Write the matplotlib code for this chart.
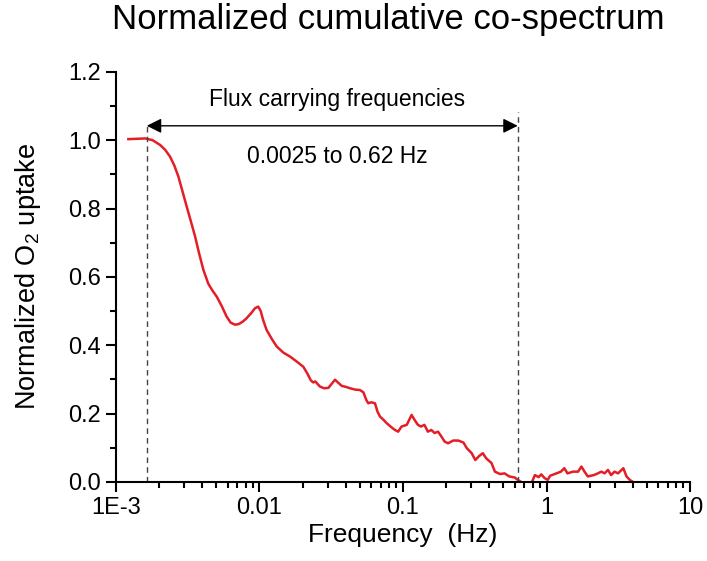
import numpy as np
import matplotlib.pyplot as plt
from matplotlib.ticker import LogLocator, FixedLocator, MultipleLocator, FixedFormatter

plt.rcParams['font.family'] = ['Liberation Sans', 'DejaVu Sans']
plt.rcParams['mathtext.fontset'] = 'custom'
plt.rcParams['mathtext.rm'] = 'Liberation Sans'
plt.rcParams['mathtext.it'] = 'Liberation Sans:italic'

# cumulative co-spectrum
freq = [0.00122, 0.00140, 0.00160, 0.00180, 0.00203, 0.00220, 0.00238, 0.00255,
        0.00272, 0.00290, 0.00311, 0.00333, 0.00356, 0.00380, 0.00407, 0.00440,
        0.00470, 0.00504, 0.00545, 0.0059, 0.0063, 0.00675, 0.0072, 0.0077,
        0.00814, 0.0088, 0.0093, 0.0098, 0.0102, 0.0106, 0.0112, 0.0122, 0.0132,
        0.0147, 0.0163, 0.0182, 0.0202, 0.0215, 0.0228, 0.0237, 0.0245, 0.0252,
        0.0264, 0.0282, 0.0302, 0.0320, 0.0336, 0.0350, 0.0374, 0.0400, 0.0428,
        0.0465, 0.0501, 0.0530, 0.0555, 0.0573, 0.0600, 0.0638, 0.0665, 0.0692,
        0.0730, 0.0769, 0.0830, 0.0879, 0.0925, 0.0977, 0.1063, 0.1148, 0.1206,
        0.127, 0.1336, 0.141, 0.149, 0.1575, 0.166, 0.1755, 0.185, 0.195, 0.206,
        0.224, 0.243, 0.264, 0.278, 0.301, 0.319, 0.34, 0.36, 0.38, 0.414, 0.437,
        0.474, 0.51, 0.55, 0.60, 0.63, 0.70, 0.789, 0.83, 0.88, 0.92, 0.97, 1.02,
        1.06, 1.14, 1.26, 1.33, 1.40, 1.53, 1.66, 1.75, 1.84, 1.94, 2.14, 2.28,
        2.41, 2.54, 2.68, 2.82, 2.98, 3.15, 3.43, 3.61, 3.80, 4.00]
norm_o2 = [1.003, 1.004, 1.005, 1.000, 0.986, 0.972, 0.952, 0.926,
           0.894, 0.852, 0.806, 0.762, 0.718, 0.668, 0.620, 0.580,
           0.560, 0.542, 0.515, 0.484, 0.466, 0.460, 0.462, 0.470,
           0.479, 0.495, 0.508, 0.513, 0.500, 0.474, 0.445, 0.418, 0.396,
           0.378, 0.367, 0.352, 0.337, 0.318, 0.297, 0.291, 0.294, 0.288,
           0.279, 0.274, 0.275, 0.288, 0.299, 0.292, 0.281, 0.278, 0.274,
           0.270, 0.269, 0.262, 0.240, 0.230, 0.233, 0.230, 0.205, 0.191,
           0.182, 0.172, 0.160, 0.152, 0.147, 0.162, 0.167, 0.196, 0.181,
           0.167, 0.162, 0.167, 0.147, 0.152, 0.143, 0.147, 0.133, 0.118, 0.113,
           0.121, 0.121, 0.115, 0.099, 0.084, 0.064, 0.076, 0.084, 0.069, 0.055, 0.030,
           0.023, 0.025, 0.016, 0.013, 0.006, -0.006, -0.002, 0.020, 0.014, 0.022, 0.011, 0.006,
           0.018, 0.023, 0.030, 0.040, 0.025, 0.030, 0.030, 0.045, 0.030, 0.016, 0.020, 0.025,
           0.030, 0.025, 0.035, 0.020, 0.030, 0.025, 0.040, 0.016, 0.006, 0.000]

band_lo = 0.00164
band_hi = 0.63
x_ticks = [1e-3, 1e-2, 1e-1, 1, 10]
x_labels = ['1E-3', '0.01', '0.1', '1', '10']

fig = plt.figure(figsize=(7.07, 5.61), dpi=100)
ax = fig.add_axes([0.164, 0.141, 0.812, 0.731])

ax.plot(freq, norm_o2, color='#E41E26', lw=1.8)

# band markers
ax.plot([band_lo, band_lo], [0, 1.042], ls=(0, (4, 3)), color='#444444', lw=1)
ax.plot([band_hi, band_hi], [0, 1.083], ls=(0, (4, 3)), color='#444444', lw=1)
ax.annotate('', xy=(band_lo, 1.042), xytext=(band_hi, 1.042),
            arrowprops=dict(arrowstyle='<|-|>', color='black', lw=1,
                            mutation_scale=22, shrinkA=0, shrinkB=0))
ax.text(0.0347, 1.118, 'Flux carrying frequencies', ha='center', va='center', fontsize=16.5)
ax.text(0.0347, 0.951, '0.0025 to 0.62 Hz', ha='center', va='center', fontsize=16.5)

ax.set_xscale('log')
ax.set_xlim(1e-3, 10)
ax.set_ylim(0, 1.2)
ax.xaxis.set_major_locator(FixedLocator(x_ticks))
ax.xaxis.set_major_formatter(FixedFormatter(x_labels))
ax.xaxis.set_minor_locator(LogLocator(base=10, subs=np.arange(2, 10)))
ax.xaxis.set_minor_formatter(FixedFormatter([]))
ax.yaxis.set_major_locator(MultipleLocator(0.2))
ax.yaxis.set_minor_locator(MultipleLocator(0.1))
ax.yaxis.set_major_formatter(plt.FormatStrFormatter('%.1f'))

for s in ['top', 'right']:
    ax.spines[s].set_visible(False)
for s in ['left', 'bottom']:
    ax.spines[s].set_linewidth(1.5)
ax.tick_params(which='major', direction='out', length=7, width=1.5, labelsize=17)
ax.tick_params(axis='x', which='major', pad=4)
ax.tick_params(axis='y', which='major', pad=4)
ax.tick_params(which='minor', direction='out', length=4, width=1.5)

ax.set_xlabel('Frequency  (Hz)', fontsize=19, labelpad=3)
ax.set_ylabel(r'Normalized O$_2$ uptake', fontsize=19.5, labelpad=18)
fig.suptitle('Normalized cumulative co-spectrum', fontsize=25, x=0.549, y=0.995)

fig.savefig('out.png', dpi=100)
